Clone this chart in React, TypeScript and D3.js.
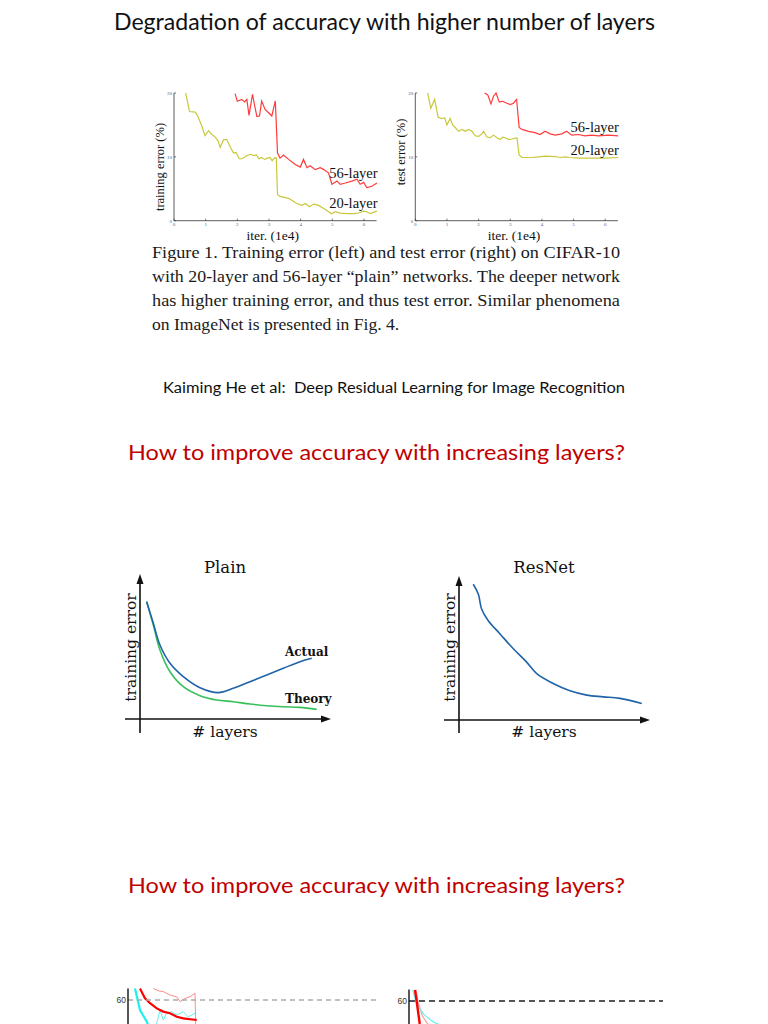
import React from "react";
import * as d3 from "d3";

type P = [number, number];

// ---- Top figure (CIFAR-10) ----
const xTicks = [0, 1, 2, 3, 4, 5, 6];
const yTicks = [0, 10, 20];

const train20: P[] = [
  [0.37, 20], [0.49, 17.1], [0.67, 17.0], [0.74, 16.5], [0.88, 14.8], [0.98, 13.3], [1.09, 14.1], [1.2, 13.5],
  [1.3, 13.1], [1.39, 12.5], [1.46, 11.5], [1.57, 12.7], [1.67, 12.7], [1.78, 11.5], [1.88, 10.6], [1.96, 10.7],
  [2.06, 9.7], [2.15, 9.7], [2.31, 10.2], [2.41, 10.4], [2.52, 10.2], [2.6, 10.3], [2.68, 9.7], [2.76, 9.9],
  [2.87, 9.6], [2.94, 9.8], [3.03, 9.9], [3.1, 9.4], [3.17, 9.8], [3.23, 9.9], [3.27, 4.1], [3.35, 3.8],
  [3.62, 3.5], [3.78, 3.0], [3.88, 2.7], [4.04, 2.4], [4.15, 2.7], [4.28, 2.2], [4.41, 2.6], [4.57, 2.4],
  [4.7, 2.0], [4.83, 1.6], [4.97, 1.1], [5.09, 1.4], [5.25, 1.2], [5.46, 1.1], [5.67, 1.1], [5.83, 1.2],
  [5.99, 1.5], [6.09, 1.4], [6.2, 1.1], [6.41, 1.5],
];
const train56: P[] = [
  [1.93, 19.9], [2.0, 18.7], [2.14, 19.0], [2.23, 18.6], [2.3, 19.0], [2.37, 16.5], [2.48, 19.8], [2.54, 18.2],
  [2.62, 16.3], [2.7, 16.4], [2.77, 18.75], [2.88, 17.4], [2.99, 16.9], [3.09, 16.4], [3.2, 18.75], [3.27, 10.6],
  [3.35, 9.8], [3.46, 10.3], [3.62, 9.6], [3.83, 8.8], [3.99, 8.4], [4.09, 9.6], [4.2, 8.3], [4.3, 8.6],
  [4.46, 8.0], [4.62, 8.3], [4.73, 8.0], [4.88, 7.5], [4.99, 5.7], [5.15, 6.2], [5.25, 5.7], [5.41, 5.9],
  [5.62, 6.2], [5.78, 6.5], [5.88, 5.7], [5.99, 6.0], [6.09, 5.2], [6.25, 5.4], [6.41, 5.9],
];
const test20: P[] = [
  [0.39, 20], [0.49, 17.6], [0.61, 19.0], [0.72, 16.2], [0.84, 16.0], [0.93, 16.1], [1.0, 15.0], [1.1, 16.0],
  [1.18, 15.0], [1.26, 14.6], [1.37, 14.0], [1.47, 14.3], [1.58, 14.0], [1.68, 14.3], [1.79, 14.0], [1.89, 13.3],
  [2.0, 13.2], [2.1, 13.6], [2.16, 14.0], [2.26, 13.1], [2.37, 13.0], [2.47, 13.4], [2.58, 13.0], [2.68, 12.7],
  [2.76, 13.1], [2.84, 13.0], [2.95, 12.7], [3.05, 12.8], [3.21, 13.0], [3.28, 10.3], [3.37, 9.9], [3.68, 9.9],
  [3.89, 10.0], [4.1, 10.1], [4.42, 10.05], [4.58, 9.9], [4.73, 10.0], [4.89, 9.9], [5.15, 9.8], [5.57, 9.8],
  [5.99, 9.8], [6.41, 9.9],
];
const test56: P[] = [
  [2.19, 20], [2.29, 19.7], [2.39, 18.3], [2.47, 19.5], [2.55, 20], [2.65, 18.6], [2.76, 18.7], [2.89, 18.4],
  [3.0, 18.2], [3.1, 18.4], [3.2, 19.0], [3.28, 14.6], [3.37, 14.3], [3.58, 14.0], [3.78, 13.8], [3.94, 13.5],
  [4.1, 14.0], [4.26, 13.6], [4.42, 13.4], [4.63, 13.6], [4.78, 14.0], [4.94, 13.4], [5.15, 13.5], [5.36, 13.3],
  [5.57, 13.4], [5.78, 13.3], [6.1, 13.4], [6.41, 13.3],
];

const captionLines = [
  "Figure 1. Training error (left) and test error (right) on CIFAR-10",
  "with 20-layer and 56-layer \u201Cplain\u201D networks. The deeper network",
  "has higher training error, and thus test error.  Similar phenomena",
  "on ImageNet is presented in Fig. 4.",
];

// ---- Plain / ResNet sketches (normalized 0..100) ----
const plainActual: P[] = [
  [3.5, 81.5], [7, 66.5], [10.5, 51.4], [15.8, 38.7], [22.8, 29.4], [31.6, 21.7], [41.2, 18.3], [49.1, 21.3],
  [57.9, 25.9], [66.7, 30.6], [75.4, 35.2], [84.2, 39.8], [90.4, 42.2],
];
const plainTheory: P[] = [
  [3.5, 81.5], [7, 65.3], [10.5, 47.9], [15.8, 32.8], [22.8, 22.4], [31.6, 16.2], [40.4, 13.2], [49.1, 12.0],
  [57.9, 10.4], [66.7, 9.2], [75.4, 8.5], [84.2, 8.1], [93, 6.7],
];
const resnetCurve: P[] = [
  [7.5, 94.9], [10.2, 88.0], [11.9, 77.6], [15.4, 69.4], [21.6, 60.2], [28.6, 49.8], [35.6, 40.5], [40.9, 32.4],
  [49.6, 25.5], [58.4, 20.4], [67.2, 17.4], [75.9, 16.2], [84.7, 15.1], [96.2, 11.6],
];

// ---- Bottom (cropped) ImageNet curves ----
const bottomRef = 60;
const botLeftRedThick: P[] = [
  [4.8, 62.9], [6.8, 60.4], [8.8, 59.2], [11.5, 57.9], [14.1, 57.1], [16.8, 56.7], [19.5, 55.8], [22.1, 55.4], [27.5, 55.0],
];
const botLeftRedThin: P[] = [
  [10.1, 62.9], [12.1, 62.3], [14.1, 62.1], [16.8, 61.25], [19.5, 60.8], [20.8, 59.6], [22.8, 60.4], [24.8, 60.8],
  [26.8, 61.7], [27.2, 50],
];
const botLeftCyanThick: P[] = [[2.8, 62.9], [4.8, 57.5], [7.5, 54.6], [8.8, 52.5]];
const botLeftCyanThin: P[] = [
  [10.8, 52.5], [12.8, 57.5], [14.1, 55], [15.5, 56.7], [17.5, 57.1], [19.5, 56.25], [22.1, 57.1], [24.1, 55.8], [26.8, 56.7],
];
const botRightRed: P[] = [[2.4, 62.75], [3.0, 60.25], [4.3, 54.25], [4.8, 52.5]];
const botRightCyan: P[] = [
  [1.5, 62.75], [3.0, 59.4], [5.6, 56.9], [7.0, 56.1], [9.6, 54.8], [11.5, 54.25], [13, 53.25],
];
const botRightRedLight: P[] = [[2.8, 62.75], [3.7, 59.5], [5.5, 56.1], [7.5, 54.25], [8.3, 52.75]];

const serif = "'Liberation Serif', 'Times New Roman', serif";
const schoolbook = "'DejaVu Serif', serif";
const sans = "Lato, 'Open Sans', sans-serif";

function TopChart(props: {
  x0: number; label: string; labelY: number; s20: P[]; s56: P[]; l56: number; l20: number;
}) {
  const x = d3.scaleLinear().domain([0, 6.4]).range([props.x0, props.x0 + 202.6]);
  const y = d3.scaleLinear().domain([0, 20]).range([220.7, 93]);
  const line = d3.line<P>().x((d) => x(d[0])).y((d) => y(d[1]));
  const tickCol = "#4a5f9a";
  return (
    <g>
      <line x1={x(0)} x2={x(0)} y1={y(0)} y2={y(20)} stroke="#333" strokeWidth={0.8} />
      <line x1={x(0)} x2={x(6.4)} y1={y(0)} y2={y(0)} stroke="#333" strokeWidth={0.8} />
      {xTicks.map((t) => (
        <g key={"x" + t}>
          <line x1={x(t)} x2={x(t)} y1={y(0)} y2={y(0) - 2} stroke="#333" strokeWidth={0.7} />
          <text x={x(t)} y={y(0) + 5.5} fontSize={5} fill={tickCol} textAnchor="middle" fontFamily={serif}>{t}</text>
        </g>
      ))}
      {yTicks.map((t) => (
        <g key={"y" + t}>
          <line x1={x(0)} x2={x(0) + 2} y1={y(t)} y2={y(t)} stroke="#333" strokeWidth={0.7} />
          <text x={x(0) - 2} y={y(t) + 2} fontSize={5} fill={tickCol} textAnchor="end" fontFamily={serif}>{t}</text>
        </g>
      ))}
      <path d={line(props.s20) || ""} fill="none" stroke="#c9c83a" strokeWidth={1.2} />
      <path d={line(props.s56) || ""} fill="none" stroke="#ff3b3b" strokeWidth={1.2} />
      <text x={x(6.4) + 1} y={props.l56} fontSize={14.5} textAnchor="end" fontFamily={serif} fill="#111">56-layer</text>
      <text x={x(6.4) + 1} y={props.l20} fontSize={14.5} textAnchor="end" fontFamily={serif} fill="#111">20-layer</text>
      <text x={x(3.12)} y={239.5} fontSize={13.5} textAnchor="middle" fontFamily={serif} fill="#111">iter. (1e4)</text>
      <text transform={`translate(${x(0) - 10},${props.labelY}) rotate(-90)`} fontSize={12.5} textAnchor="middle" fontFamily={serif} fill="#111">{props.label}</text>
    </g>
  );
}

function Sketch(props: {
  x0: number; x1: number; yTop: number; yAxis: number; title: string; cx: number; labelX: number;
  curves: { data: P[]; color: string }[]; axisLeft: number;
}) {
  const x = d3.scaleLinear().domain([0, 100]).range([props.x0, props.x1]);
  const y = d3.scaleLinear().domain([0, 100]).range([props.yAxis, props.yTop]);
  const line = d3.line<P>().x((d) => x(d[0])).y((d) => y(d[1])).curve(d3.curveCatmullRom);
  const ax = x(0);
  return (
    <g>
      <line x1={ax} x2={ax} y1={733} y2={props.yTop + 4} stroke="#111" strokeWidth={1.6} />
      <path d={`M${ax - 3.5},${props.yTop + 9} L${ax},${props.yTop - 1} L${ax + 3.5},${props.yTop + 9} Z`} fill="#111" />
      <line x1={props.axisLeft} x2={props.x1 - 4} y1={props.yAxis} y2={props.yAxis} stroke="#111" strokeWidth={1.6} />
      <path d={`M${props.x1 - 9},${props.yAxis - 3.5} L${props.x1 + 1},${props.yAxis} L${props.x1 - 9},${props.yAxis + 3.5} Z`} fill="#111" />
      {props.curves.map((c, i) => (
        <path key={i} d={line(c.data) || ""} fill="none" stroke={c.color} strokeWidth={1.6} />
      ))}
      <text x={props.cx} y={573} fontSize={16.5} textAnchor="middle" fontFamily={schoolbook} fill="#111">{props.title}</text>
      <text x={props.cx} y={737} fontSize={15.5} textAnchor="middle" fontFamily={schoolbook} fill="#111"># layers</text>
      <text transform={`translate(${props.labelX},${647.5}) rotate(-90)`} fontSize={15.5} textAnchor="middle" fontFamily={schoolbook} fill="#111">training error</text>
    </g>
  );
}

function BottomChart(props: {
  x0: number; x1: number; yRef: number; dashCol: string; dashW: number; dash: string; axisW: number;
  curves: { data: P[]; color: string; w: number }[];
}) {
  const x = d3.scaleLinear().domain([0, 100]).range([props.x0, props.x0 + 250]);
  const y = d3.scaleLinear().domain([bottomRef, bottomRef + 10]).range([props.yRef, props.yRef - 40]);
  const line = d3.line<P>().x((d) => x(d[0])).y((d) => y(d[1]));
  return (
    <g>
      {props.curves.map((c, i) => (
        <path key={i} d={line(c.data) || ""} fill="none" stroke={c.color} strokeWidth={c.w} />
      ))}
      <line x1={x(0)} x2={props.x1} y1={y(bottomRef)} y2={y(bottomRef)} stroke={props.dashCol} strokeWidth={props.dashW} strokeDasharray={props.dash} />
      <line x1={x(0)} x2={x(0)} y1={y(bottomRef) - 11.5} y2={1030} stroke="#111" strokeWidth={props.axisW} />
      <text x={x(0) - 2} y={y(bottomRef) + 3} fontSize={8.5} textAnchor="end" fontFamily="'Liberation Sans', sans-serif" fill="#333">{bottomRef}</text>
    </g>
  );
}

export default function App() {
  return (
    <svg width={768} height={1024} viewBox="0 0 768 1024" style={{ position: "absolute", left: 0, top: 0, background: "#fff" }}>
      <rect width={768} height={1024} fill="#fff" />
      <text x={114} y={30} fontSize={22.5} fontFamily={sans} fill="#111" textLength={541} lengthAdjust="spacingAndGlyphs">
        Degradation of accuracy with higher number of layers
      </text>

      <TopChart x0={174} label="training error (%)" labelY={167} s20={train20} s56={train56} l56={177.5} l20={208} />
      <TopChart x0={415.3} label="test error (%)" labelY={152} s20={test20} s56={test56} l56={132} l20={155} />

      {captionLines.map((t, i) => (
        <text key={i} x={152} y={258 + i * 24} fontSize={17.6} fontFamily={serif} fill="#1a1a1a"
          {...(i < 3 ? { textLength: 468, lengthAdjust: "spacingAndGlyphs" } : {})}>
          {t}
        </text>
      ))}

      <text x={163} y={393} fontSize={14.5} fontFamily={sans} fill="#111" textLength={462} lengthAdjust="spacingAndGlyphs" style={{ whiteSpace: "pre" }}>
        {"Kaiming He et al:  Deep Residual Learning for Image Recognition"}
      </text>

      <text x={128} y={460} fontSize={22} fontFamily={sans} fill="#c00000" textLength={497} lengthAdjust="spacingAndGlyphs">
        How to improve accuracy with increasing layers?
      </text>

      <Sketch x0={140} x1={330} yTop={575} yAxis={719} axisLeft={125} title="Plain" cx={225} labelX={136}
        curves={[{ data: plainTheory, color: "#37c05a" }, { data: plainActual, color: "#1f63a8" }]} />
      <text x={285} y={656} fontSize={12} fontWeight="bold" fontFamily={schoolbook} fill="#111">Actual</text>
      <text x={285} y={703} fontSize={12} fontWeight="bold" fontFamily={schoolbook} fill="#111">Theory</text>

      <Sketch x0={459} x1={649} yTop={577} yAxis={720} axisLeft={444} title="ResNet" cx={544} labelX={455}
        curves={[{ data: resnetCurve, color: "#1f63a8" }]} />

      <text x={128} y={893} fontSize={22} fontFamily={sans} fill="#c00000" textLength={497} lengthAdjust="spacingAndGlyphs">
        How to improve accuracy with increasing layers?
      </text>

      <BottomChart x0={128} x1={378} yRef={1000} dashCol="#aaaaaa" dashW={1.3} dash="5,4" axisW={1.4}
        curves={[
          { data: botLeftRedThin, color: "#ff8a8a", w: 1 },
          { data: botLeftCyanThin, color: "#5ff0f0", w: 1 },
          { data: botLeftCyanThick, color: "#22eeee", w: 2.2 },
          { data: botLeftRedThick, color: "#ff0000", w: 2.2 },
        ]} />
      <BottomChart x0={409} x1={663} yRef={1001} dashCol="#555555" dashW={1.8} dash="6,4" axisW={1.4}
        curves={[
          { data: botRightRedLight, color: "#ff9a9a", w: 1.2 },
          { data: botRightCyan, color: "#5ff0f0", w: 1.2 },
          { data: botRightRed, color: "#ff0000", w: 2.4 },
        ]} />
    </svg>
  );
}
